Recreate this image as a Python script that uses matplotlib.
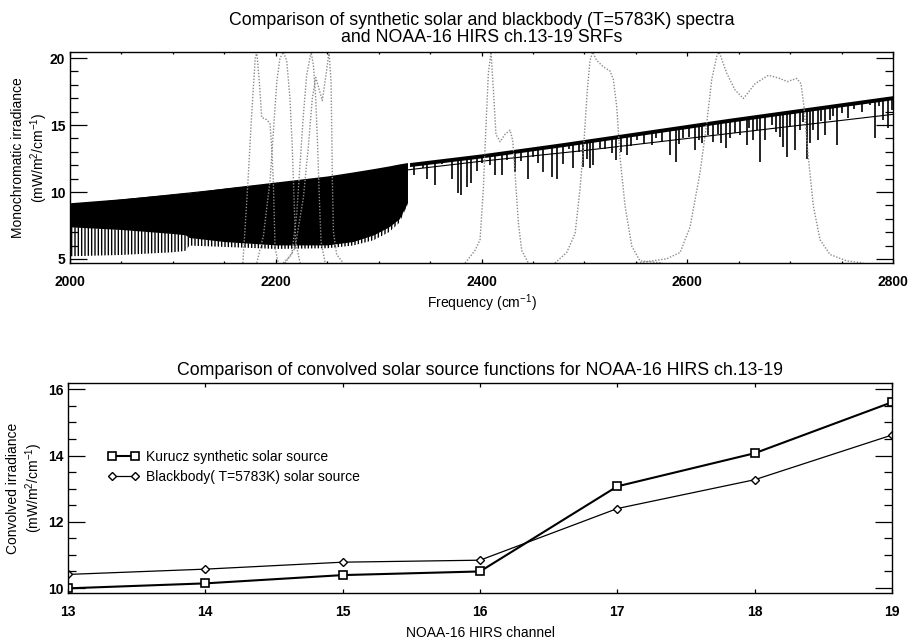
import numpy as np
import matplotlib
matplotlib.use("Agg")
import matplotlib.pyplot as plt
from matplotlib.ticker import MultipleLocator

plt.rcParams['font.family'] = ['Liberation Sans', 'DejaVu Sans']
plt.rcParams['mathtext.fontset'] = 'custom'
plt.rcParams['mathtext.rm'] = 'Liberation Sans'
plt.rcParams['mathtext.it'] = 'Liberation Sans'
plt.rcParams['hatch.linewidth'] = 1.0

# ---- top panel data ----
# blackbody T=5783K, mW/m2/cm-1
bb_nu = [2000, 2100, 2200, 2300, 2400, 2500, 2600, 2700, 2800]
bb_val = [9.0, 9.8, 10.6, 11.4, 12.3, 13.1, 14.0, 14.9, 15.8]

# dense CO-band part of the synthetic spectrum (2000-2330)
dense_nu = [2000, 2050, 2100, 2112, 2116, 2150, 2200, 2250, 2275, 2295, 2310, 2320, 2328]
dense_top = [9.2, 9.5, 9.85, 9.95, 9.95, 10.3, 10.75, 11.2, 11.5, 11.75, 11.95, 12.1, 12.2]
dense_mass = [7.4, 7.2, 6.9, 6.8, 6.6, 6.3, 6.05, 6.05, 6.3, 6.8, 7.4, 8.0, 9.2]
dense_spike = [5.2, 5.3, 5.5, 5.6, 6.0, 5.9, 5.75, 5.8, 6.0, 6.4, 7.0, 7.7, 9.0]

# continuum of the synthetic spectrum above 2330
cont_nu = [2330, 2400, 2480, 2560, 2640, 2720, 2800]
cont_top = [12.2, 12.85, 13.7, 14.6, 15.5, 16.35, 17.2]
cont_lo = [11.9, 12.55, 13.4, 14.3, 15.2, 16.05, 16.9]

# absorption lines: frequency and minimum value
line_nu = [2334, 2343, 2347, 2350, 2355, 2362, 2371, 2377.5, 2380, 2385.5, 2390, 2396,
           2400, 2408, 2413, 2419.5, 2425, 2432.5, 2438, 2445.5, 2450, 2455, 2460, 2468,
           2473, 2479.5, 2485, 2489, 2495, 2499, 2502, 2505.5, 2508.6, 2515, 2520, 2526.5,
           2531, 2536, 2541, 2545, 2551, 2558, 2566, 2570, 2575, 2583, 2588.7, 2592, 2596,
           2602, 2607.5, 2611, 2614, 2620.5, 2625, 2630, 2633, 2638, 2641.5, 2646, 2651,
           2657.7, 2660, 2664, 2668, 2670.7, 2675.5, 2682, 2686, 2690, 2693, 2697, 2700,
           2704.7, 2709.5, 2712, 2716, 2719, 2722.5, 2727, 2730, 2734, 2738.7, 2742, 2745,
           2750, 2756.5, 2762, 2770, 2778, 2782.5, 2786, 2790.5, 2795, 2799]
line_min = [11.3, 11.8, 11.0, 12.3, 10.5, 12.1, 11.0, 9.9, 9.8, 10.4, 10.65, 11.6,
            12.2, 12.0, 11.3, 11.3, 12.4, 11.5, 12.3, 11.0, 12.6, 12.2, 11.5, 11.15,
            11.0, 12.1, 13.2, 11.77, 13.0, 11.9, 12.5, 11.77, 12.0, 13.3, 13.2, 12.9,
            12.4, 13.0, 12.76, 13.4, 13.9, 13.6, 13.5, 14.0, 13.75, 12.76, 12.26, 13.6, 14.0,
            14.1, 13.13, 13.9, 13.63, 14.25, 13.75, 14.3, 13.63, 13.26, 14.0, 14.38, 14.25,
            13.5, 14.8, 13.9, 14.6, 12.26, 13.9, 15.0, 14.5, 14.13, 13.38, 12.63, 14.9,
            13.13, 14.63, 15.2, 12.5, 13.63, 14.63, 13.9, 15.3, 14.25, 15.37, 15.7, 13.5,
            15.9, 15.5, 16.2, 16.0, 16.5, 14.0, 16.4, 15.37, 14.75, 16.1]

# NOAA-16 HIRS ch.13-19 spectral response functions (normalised)
srf13_nu = [2168, 2173, 2176.5, 2180, 2181.5, 2184, 2186.3, 2191, 2194.4, 2196, 2197.6, 2198.6, 2199.3, 2202.5]
srf13_r = [0.0, 0.39, 0.70, 0.97, 1.0, 0.86, 0.69, 0.68, 0.66, 0.55, 0.39, 0.20, 0.07, 0.0]
srf14_nu = [2181.5, 2188, 2194.4, 2197.6, 2201, 2204, 2207.3, 2210.6, 2213.8, 2216, 2217.7, 2219.3, 2223.6]
srf14_r = [0.0, 0.13, 0.39, 0.62, 0.86, 0.97, 1.0, 0.96, 0.78, 0.55, 0.31, 0.10, 0.0]
srf15_nu = [2207.3, 2215.5, 2220.3, 2223.6, 2226.8, 2230, 2234.3, 2236.5, 2238.8, 2240.7, 2242.3, 2244, 2248]
srf15_r = [0.0, 0.04, 0.23, 0.47, 0.70, 0.89, 1.0, 0.94, 0.78, 0.55, 0.31, 0.10, 0.0]
srf16_nu = [2209, 2218.7, 2226.8, 2231.6, 2235.5, 2238.8, 2245.2, 2249, 2251.7, 2253.7, 2254.4, 2255, 2256, 2259.2, 2265.6]
srf16_r = [0.0, 0.07, 0.31, 0.55, 0.78, 0.88, 0.77, 0.90, 1.0, 0.86, 0.62, 0.39, 0.15, 0.04, 0.0]
srf17_nu = [2384, 2393.7, 2398.5, 2401.7, 2404.4, 2406.6, 2409.2, 2411.5, 2414, 2418, 2422.8, 2427.7,
            2430.3, 2432.5, 2435.8, 2439, 2445.5]
srf17_r = [0.0, 0.06, 0.11, 0.35, 0.66, 0.90, 1.0, 0.82, 0.61, 0.575, 0.61, 0.63, 0.58, 0.43, 0.19, 0.06, 0.0]
srf18_nu = [2471.4, 2482.8, 2490.9, 2495.7, 2499.6, 2502.8, 2505.4, 2508, 2512, 2518.4, 2524.9, 2528.1,
            2531.4, 2534.6, 2539.5, 2546, 2554, 2576]
srf18_r = [0.0, 0.05, 0.14, 0.35, 0.58, 0.82, 0.96, 1.0, 0.96, 0.93, 0.91, 0.87, 0.74, 0.50, 0.27, 0.08, 0.01, 0.0]
srf19_nu = [2551, 2580, 2593, 2602.6, 2612.4, 2618.8, 2623.7, 2628.6, 2631, 2638.3, 2646.4, 2654.5, 2665.8,
            2678.8, 2690, 2697.2, 2706.3, 2710.5, 2713.4, 2717.6, 2722.5, 2729, 2738.7, 2755, 2771]
srf19_r = [0.0, 0.02, 0.05, 0.17, 0.43, 0.66, 0.87, 0.98, 1.0, 0.90, 0.82, 0.78, 0.85, 0.89, 0.875, 0.86,
           0.875, 0.85, 0.74, 0.50, 0.27, 0.11, 0.04, 0.01, 0.0]
srfs = [(srf13_nu, srf13_r), (srf14_nu, srf14_r), (srf15_nu, srf15_r), (srf16_nu, srf16_r),
        (srf17_nu, srf17_r), (srf18_nu, srf18_r), (srf19_nu, srf19_r)]

# ---- bottom panel data ----
channels = [13, 14, 15, 16, 17, 18, 19]
kurucz = [9.99, 10.14, 10.39, 10.50, 13.07, 14.07, 15.61]
blackbody = [10.41, 10.57, 10.78, 10.84, 12.40, 13.27, 14.62]

fig = plt.figure(figsize=(9.13, 6.43), dpi=100)
ax1 = fig.add_axes([0.0767, 0.591, 0.9015, 0.328])
ax2 = fig.add_axes([0.0745, 0.0778, 0.9025, 0.326])

# top: spectra
ax1.fill_between(dense_nu, dense_mass, dense_top, color='black', lw=0)
ax1.fill_between(dense_nu, dense_spike, dense_mass, facecolor='none', edgecolor='black',
                 hatch='|||||', lw=0)
ax1.fill_between(cont_nu, cont_lo, cont_top, color='black', lw=0)
ax1.vlines(line_nu, line_min, np.interp(line_nu, cont_nu, cont_lo), color='black', lw=1.2)
ax1.plot(bb_nu, bb_val, color='black', lw=0.8)
for nu, r in srfs:
    ax1.plot(nu, r, color='#8a8a8a', ls=(0, (1, 1.2)), lw=1.0,
             transform=ax1.get_xaxis_transform())

ax1.set_xlim(2000, 2800)
ax1.set_ylim(4.7, 20.45)
ax1.xaxis.set_major_locator(MultipleLocator(200))
ax1.xaxis.set_minor_locator(MultipleLocator(50))
ax1.yaxis.set_major_locator(MultipleLocator(5))
ax1.yaxis.set_minor_locator(MultipleLocator(1))
ax1.set_xlabel('Frequency (cm$^{-1}$)', fontsize=10, labelpad=2)
ax1.set_ylabel('Monochromatic irradiance\n(mW/m$^2$/cm$^{-1}$)', fontsize=10, labelpad=0)
ax1.set_title('Comparison of synthetic solar and blackbody (T=5783K) spectra\n'
              'and NOAA-16 HIRS ch.13-19 SRFs', fontsize=12.8, pad=7, linespacing=1.0)

# bottom: convolved values
ax2.plot(channels, kurucz, color='black', lw=1.5, marker='s', ms=6, mfc='white', mew=1.2,
         label='Kurucz synthetic solar source')
ax2.plot(channels, blackbody, color='black', lw=0.9, marker='D', ms=4, mfc='white', mew=1.0,
         label='Blackbody( T=5783K) solar source')
ax2.set_xlim(13, 19)
ax2.set_ylim(9.85, 16.18)
ax2.xaxis.set_major_locator(MultipleLocator(1))
ax2.yaxis.set_major_locator(MultipleLocator(2))
ax2.yaxis.set_minor_locator(MultipleLocator(0.5))
ax2.set_xlabel('NOAA-16 HIRS channel', fontsize=10, labelpad=5)
ax2.set_ylabel('Convolved irradiance\n(mW/m$^2$/cm$^{-1}$)', fontsize=10, labelpad=2)
ax2.set_title('Comparison of convolved solar source functions for NOAA-16 HIRS ch.13-19',
              fontsize=12.8, pad=6)
ax2.legend(loc='upper left', bbox_to_anchor=(0.042, 0.71), frameon=False, numpoints=2,
           fontsize=10, handlelength=2.2, handletextpad=0.5, labelspacing=0.45,
           borderaxespad=0)

for ax in (ax1, ax2):
    for s in ax.spines.values():
        s.set_linewidth(1.0)
    ax.tick_params(which='both', direction='in', top=True, right=True, width=0.9)
    ax.tick_params(axis='y', which='major', length=12)
    ax.tick_params(axis='y', which='minor', length=6)
    ax.tick_params(axis='x', which='major', length=3, pad=9)
    ax.tick_params(axis='x', which='minor', length=1.5)
    for lab in ax.get_xticklabels() + ax.get_yticklabels():
        lab.set_fontweight('bold')
        lab.set_fontsize(10)

fig.savefig('out.png', dpi=100)
